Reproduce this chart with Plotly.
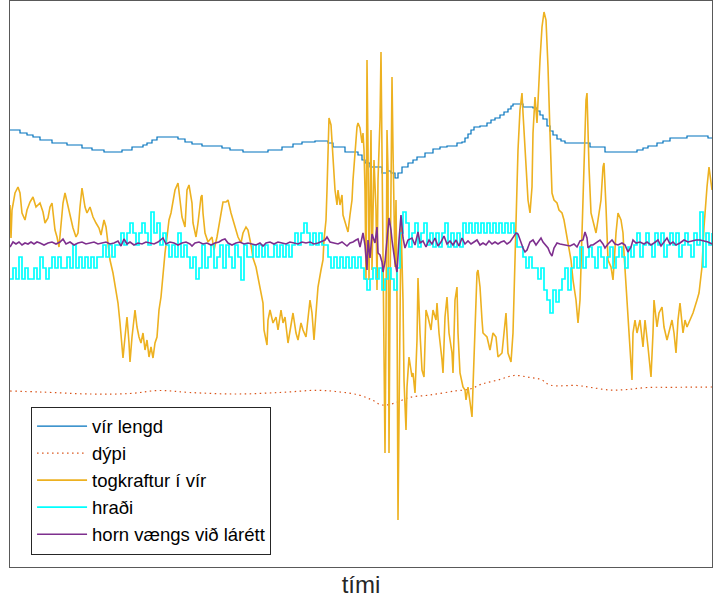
import plotly.graph_objects as go

# ---------------- data (time index, value in screen-like units; y axis reversed) ----------------
# vír lengd (step line)
vir_t = [10, 20, 27, 33, 40, 52, 67, 82, 92, 104, 122, 132, 143, 147, 152, 157, 178, 185, 192, 202,
         222, 230, 243, 268, 282, 293, 302, 315, 328, 333, 345, 358, 362, 365, 370, 382, 387, 391, 395,
         398, 402, 408, 413, 417, 425, 433, 440, 447, 457, 462, 465, 468, 471, 474, 480, 487, 491, 495,
         500, 504, 508, 511, 513, 523, 533, 537, 540, 543, 547, 550, 553, 557, 561, 565, 590, 605, 633,
         637, 643, 648, 657, 663, 670, 687, 708, 712]
vir_v = [130, 133, 135, 137, 140, 143, 145, 148, 150, 152, 150, 147, 145, 143, 140, 137, 139, 142, 144, 146,
         148, 150, 152, 150, 147, 144, 142, 141, 143, 147, 152, 155, 160, 163, 167, 173, 171, 173, 178,
         173, 167, 163, 160, 157, 153, 149, 147, 146, 143, 142, 138, 134, 130, 127, 126, 123, 120, 118,
         115, 112, 109, 106, 104, 107, 108, 111, 115, 119, 126, 131, 135, 139, 141, 143, 147, 152, 152,
         150, 148, 146, 143, 141, 138, 136, 138, 138]

# dýpi
dypi_t = [10, 40, 91, 130, 159, 190, 236, 280, 318, 340, 359, 372, 382, 395, 409, 430, 455, 470, 482,
          498, 514, 530, 541, 550, 577, 591, 610, 627, 647, 673, 712]
dypi_v = [391, 392, 394, 393.5, 390.5, 392.5, 394, 392.5, 390.3, 392, 395, 400, 405, 403, 397.5, 395,
          391, 389, 384, 380, 375.5, 377.5, 379.5, 385, 385.5, 387.5, 390, 389.5, 387.5, 387.3, 387]

# togkraftur í vír
tog_t = [10, 11, 12, 15, 18, 20, 22, 25, 27, 30, 33, 36, 40, 43, 45, 48, 50, 52, 55, 57, 59, 61, 63, 65,
         68, 71, 73, 76, 78, 80, 82, 85, 87, 90, 93, 96, 99, 101, 104, 106, 108, 110, 113, 116, 118, 120,
         122, 123, 125, 127, 129, 130, 132, 135, 137, 139, 141, 143, 145, 147, 149, 151, 153, 155, 157,
         159, 161, 163, 165, 167, 169, 171, 173, 175, 178, 180, 182, 185, 187, 189, 192, 193, 196, 198,
         201, 202, 203, 205, 208, 212, 214, 217, 220, 223, 226, 228, 231, 233, 236, 238, 241, 243, 246,
         248, 251, 253, 256, 258, 261, 263, 264, 267, 268, 270, 273, 276, 278, 281, 283, 285, 288, 291,
         293, 296, 298, 301, 303, 306, 308, 310, 312, 314, 316, 318, 321, 323, 324, 326, 327, 328, 329,
         331, 333, 335, 337, 338, 340, 342, 343, 345, 347, 348, 350, 352, 353, 355, 357, 358, 360, 362,
         363, 364, 365, 366, 367, 368, 369, 370, 371, 372, 374, 376, 377, 378, 380, 381, 382, 383, 385,
         386, 387, 388, 389, 390, 391, 392, 393, 395, 396, 397, 398, 399, 400, 401, 403, 404, 406, 407,
         409, 412, 413, 415, 417, 418, 420, 422, 424, 426, 428, 431, 433, 436, 437, 439, 442, 443, 445,
         447, 449, 452, 453, 455, 457, 458, 460, 463, 465, 466, 468, 471, 472, 473, 475, 477, 478, 480,
         482, 483, 487, 490, 493, 496, 498, 502, 504, 506, 508, 511, 513, 515, 517, 518, 520, 522, 523,
         525, 527, 528, 530, 532, 533, 535, 537, 538, 540, 542, 544, 546, 548, 550, 552, 554, 557, 559,
         562, 564, 566, 568, 571, 573, 576, 578, 580, 582, 584, 586, 587, 589, 591, 593, 596, 598, 601,
         603, 604, 606, 608, 611, 613, 616, 618, 621, 623, 624, 626, 628, 631, 632, 633, 635, 637, 640,
         643, 645, 648, 651, 653, 654, 657, 659, 662, 664, 667, 669, 672, 674, 676, 678, 680, 683, 685,
         687, 690, 693, 697, 699, 702, 704, 707, 709, 712]
tog_v = [205, 238, 210, 193, 187, 193, 213, 220, 210, 202, 197, 207, 203, 212, 223, 218, 207, 203, 230,
         237, 247, 228, 203, 193, 207, 220, 228, 237, 233, 207, 188, 207, 213, 207, 217, 223, 228, 235,
         220, 227, 243, 260, 273, 290, 303, 323, 347, 358, 337, 317, 343, 362, 337, 310, 327, 337, 343,
         333, 350, 340, 357, 347, 358, 343, 337, 310, 297, 270, 253, 237, 220, 213, 203, 190, 183, 200,
         217, 227, 190, 185, 203, 223, 237, 223, 197, 195, 213, 233, 242, 237, 250, 237, 220, 202, 202,
         200, 213, 220, 230, 237, 243, 233, 227, 230, 245, 258, 267, 277, 290, 303, 330, 345, 320, 310,
         323, 317, 330, 310, 323, 317, 343, 327, 313, 333, 340, 323, 330, 337, 317, 300, 313, 340, 313,
         287, 270, 260, 240, 220, 190, 150, 118, 125, 160, 190, 205, 190, 205, 195, 215, 222, 227, 232,
         215, 200, 180, 150, 127, 123, 128, 143, 133, 150, 190, 280, 60, 150, 280, 200, 130, 270, 160,
         210, 290, 180, 120, 52, 150, 300, 453, 330, 130, 170, 453, 300, 150, 77, 150, 267, 200, 300,
         520, 410, 290, 220, 300, 380, 430, 387, 357, 377, 373, 393, 340, 278, 333, 370, 377, 310, 317,
         330, 310, 320, 303, 333, 360, 373, 317, 297, 333, 353, 373, 300, 287, 333, 373, 387, 390, 400,
         387, 413, 417, 387, 333, 273, 270, 287, 320, 333, 337, 350, 333, 337, 357, 353, 333, 313, 353,
         362, 333, 267, 207, 150, 110, 93, 113, 147, 180, 200, 213, 187, 133, 97, 123, 100, 60, 27, 12,
         20, 67, 133, 193, 200, 203, 210, 213, 220, 230, 243, 260, 280, 300, 323, 300, 233, 167, 100, 93,
         167, 213, 220, 233, 220, 200, 167, 163, 207, 260, 267, 280, 233, 213, 220, 233, 253, 283, 317,
         367, 380, 333, 320, 333, 320, 347, 320, 347, 377, 333, 300, 327, 313, 307, 327, 340, 333, 320,
         333, 353, 320, 303, 333, 320, 327, 320, 313, 300, 293, 267, 227, 187, 167, 190]

# hraði (quantised, sampled every 3 time units from 10 to 712)
hradi_t = list(range(10, 713, 3))
hradi_v = [279, 268, 279, 257, 279, 268, 279, 279, 268, 279, 257, 268, 279,
           268, 257, 268, 257, 268, 268, 257, 268, 245, 268, 257, 268, 257, 268, 257, 268, 257,
           257, 245, 257, 245, 257, 245,
           245, 233, 245, 233, 223, 233, 245, 233, 223, 233, 245, 212, 233, 223, 245, 233, 245,
           257, 245, 257, 233, 257, 245, 257,
           268, 257, 279, 268,
           245, 268, 257, 245, 268, 257, 245, 268, 245, 257, 268, 245, 257, 280, 245, 257,
           257, 245, 257, 245, 257, 245, 257, 257, 245, 257, 245, 257, 245, 257,
           245, 233, 245, 233, 223, 233, 245, 233, 245, 233, 245, 245,
           257, 268, 257, 268, 257, 268, 257, 268, 257, 268, 257,
           268, 279, 290, 279, 268, 279, 268, 290, 279, 268, 279, 290, 268,
           233, 212, 223, 247, 233, 223, 247, 233, 223, 245, 233,
           247, 233, 247, 233, 223, 247, 233, 247, 233, 247, 223, 233,
           223, 233, 223, 233, 223, 233, 223, 233, 223, 233, 223, 233, 223, 233, 223, 233, 247,
           247, 257, 268, 257, 268, 268, 279, 268, 290, 300, 313, 290, 302, 290,
           279, 268, 290, 268, 257, 268, 247, 268, 257, 247,
           257, 268, 247, 257, 268, 257, 247, 268, 257, 247, 257, 268, 247, 257,
           245, 233, 257, 245, 233, 245, 257, 233, 245, 233, 257, 245, 233, 245, 233, 257, 245, 233,
           245, 257, 233, 245,
           212, 267, 233, 245, 233]

# horn vængs við lárétt
horn_t = [10, 13, 16, 19, 22, 25, 28, 31, 34, 37, 40, 44, 48, 52, 56, 60, 63, 66, 70, 74, 78, 82, 86,
          90, 94, 98, 102, 106, 110, 114, 118, 121, 124, 127, 130, 134, 138, 142, 146, 150, 154, 158,
          161, 163, 166, 170, 174, 178, 182, 186, 190, 192, 195, 199, 203, 207, 211, 215, 219, 222, 225,
          228, 232, 236, 240, 244, 248, 252, 256, 260, 263, 266, 270, 274, 278, 282, 286, 290, 294, 298,
          302, 306, 310, 314, 318, 322, 325, 327, 330, 334, 338, 342, 345, 347, 350, 353, 356, 358, 360,
          363, 365, 367, 368, 370, 372, 375, 377, 378, 380, 382, 383, 385, 387, 389, 391, 392, 395, 397,
          399, 401, 403, 405, 408, 412, 415, 418, 420, 423, 426, 429, 432, 435, 438, 441, 444, 447, 450,
          453, 456, 459, 462, 465, 468, 471, 474, 477, 480, 483, 486, 489, 492, 495, 498, 501, 504, 507,
          510, 513, 516, 518, 520, 523, 525, 527, 530, 533, 536, 539, 541, 543, 546, 548, 550, 552, 554,
          557, 560, 564, 567, 570, 574, 577, 580, 583, 585, 587, 588, 591, 593, 596, 600, 603, 605, 608,
          612, 615, 618, 622, 625, 628, 631, 633, 636, 640, 644, 647, 651, 654, 658, 661, 664, 667, 670,
          673, 676, 680, 684, 688, 692, 696, 700, 704, 708, 712]
horn_v = [247, 242, 244, 242, 245, 243, 244, 242, 244, 242, 243, 245, 243, 242, 244, 242, 239, 244, 242,
          245, 243, 242, 244, 243, 242, 244, 243, 242, 244, 243, 241, 246, 239, 244, 242, 245, 243, 244,
          242, 243, 244, 242, 240, 238, 244, 242, 243, 245, 243, 242, 244, 246, 243, 242, 244, 243, 245,
          243, 242, 240, 239, 243, 245, 243, 242, 244, 243, 244, 245, 243, 246, 243, 242, 244, 242, 243,
          244, 242, 243, 244, 242, 243, 242, 244, 243, 241, 240, 237, 242, 243, 244, 242, 245, 246, 243,
          242, 240, 239, 247, 233, 245, 270, 240, 258, 234, 243, 227, 253, 255, 262, 272, 262, 240, 218,
          230, 240, 262, 272, 240, 215, 238, 248, 240, 238, 245, 232, 243, 241, 247, 240, 244, 238, 246,
          242, 236, 244, 241, 245, 240, 246, 238, 244, 241, 244, 242, 240, 245, 243, 245, 241, 244, 242,
          244, 242, 241, 244, 242, 237, 233, 234, 240, 248, 252, 250, 242, 240, 245, 240, 238, 242, 246,
          248, 253, 256, 248, 243, 244, 245, 245, 246, 244, 247, 241, 240, 232, 238, 248, 245, 245, 243,
          240, 244, 248, 244, 240, 244, 245, 243, 245, 252, 247, 240, 243, 242, 244, 242, 245, 243, 240,
          246, 242, 238, 244, 242, 245, 243, 240, 242, 241, 240, 240, 241, 242, 244]

names = ["vír lengd", "dýpi", "togkraftur í vír", "hraði", "horn vængs við lárétt"]
colors = ["#0072BD", "#D95319", "#EDB120", "#00FFFF", "#7E2F8E"]

fig = go.Figure()
fig.add_trace(go.Scatter(x=vir_t, y=vir_v, name=names[0], mode="lines",
                         line=dict(color=colors[0], width=1.2, shape="hv")))
fig.add_trace(go.Scatter(x=dypi_t, y=dypi_v, name=names[1], mode="lines",
                         line=dict(color=colors[1], width=1.2, dash="1.5px,3.5px", shape="spline")))
fig.add_trace(go.Scatter(x=tog_t, y=tog_v, name=names[2], mode="lines",
                         line=dict(color=colors[2], width=1.6)))
fig.add_trace(go.Scatter(x=hradi_t, y=hradi_v, name=names[3], mode="lines",
                         line=dict(color=colors[3], width=1.7, shape="hv")))
fig.add_trace(go.Scatter(x=horn_t, y=horn_v, name=names[4], mode="lines",
                         line=dict(color=colors[4], width=1.6)))

axis_common = dict(showgrid=False, zeroline=False, showticklabels=False, ticks="",
                   showline=True, mirror=True, linecolor="#595959", linewidth=1)

fig.update_layout(
    width=713, height=600,
    margin=dict(l=10, r=1, t=1, b=33),
    paper_bgcolor="white", plot_bgcolor="white",
    font=dict(family="Liberation Sans, Arial, sans-serif", color="#262626"),
    xaxis=dict(range=[10, 712], title=dict(text="tími", font=dict(size=24), standoff=9), **axis_common),
    yaxis=dict(range=[567, 1], **axis_common),
    legend=dict(x=0.03, y=0.022, xanchor="left", yanchor="bottom",
                bgcolor="white", bordercolor="#262626", borderwidth=1,
                font=dict(size=18.5, color="black"), itemwidth=50, tracegroupgap=0),
    showlegend=True,
)

fig.write_html("out.html")
